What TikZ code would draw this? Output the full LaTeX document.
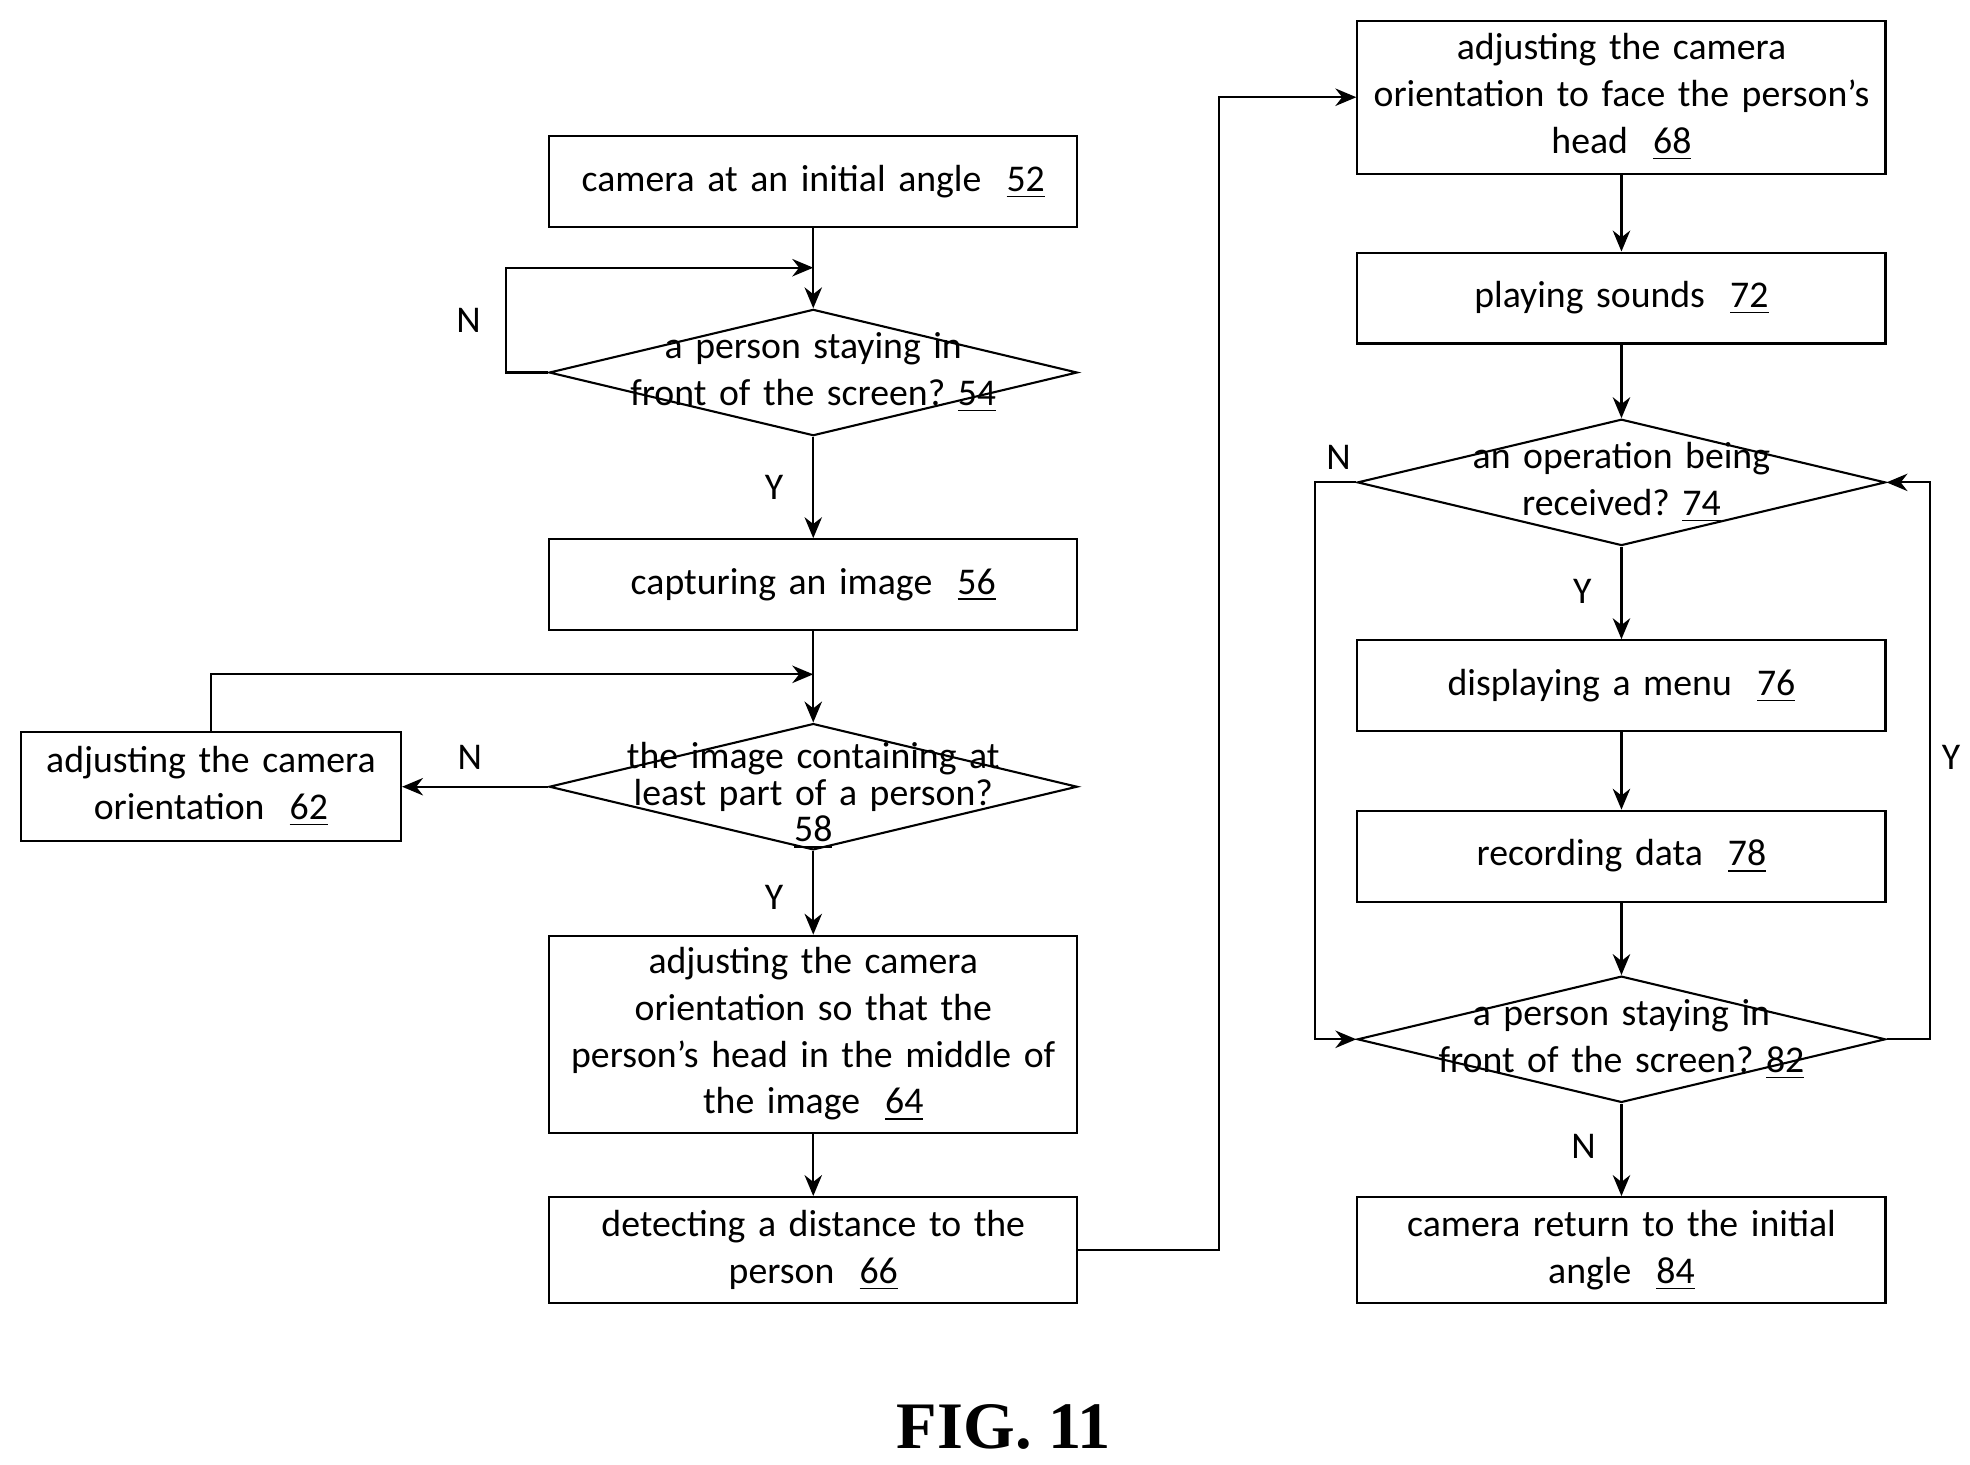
\documentclass[tikz,border=0pt]{standalone}
\usepackage{fontspec}
\setmainfont{Carlito}
\newfontfamily\figfont{Liberation Serif}
\usetikzlibrary{arrows.meta,shapes.geometric,positioning}

\begin{document}
\begin{tikzpicture}[x=0.0127cm,y=-0.0127cm,line width=0.6pt,
  every node/.style={font=\fontsize{10.8}{13.4}\selectfont},
  box/.style={rectangle,draw=black,minimum width=5.309cm,text width=5.3cm,align=center,inner sep=0pt},
  dec/.style={diamond,draw=black,minimum width=5.309cm,minimum height=1.27cm,inner sep=0pt},
  txt/.style={text width=4.8cm,align=center,inner sep=0pt},
  arr/.style={-{Stealth[length=6pt,width=5pt]}}]
\useasboundingbox (0,0) rectangle (1560,1160);
% left column
\node (n52) at (644,144) [box,minimum height=0.914cm]{camera at an initial angle~~\underline{52}};
\node (d54) at (644,295) [dec]{};
\node at (d54) [txt]{a person staying in\\front of the screen?~\underline{54}};
\node (n56) at (644,463) [box,minimum height=0.914cm]{capturing an image~~\underline{56}};
\node (d58) at (644,623) [dec]{};
\node at (644,630) [txt,font=\fontsize{10.8}{10.5}\selectfont]{the image containing at\\least part of a person?\\\underline{58}};
\node (n62) at (167,623) [box,minimum width=3.823cm,text width=3.8cm,minimum height=1.092cm]{adjusting the camera\\orientation~~\underline{62}};
\node (n64) at (644,819) [box,minimum height=1.981cm]{adjusting the camera\\orientation so that the\\person's head in the middle of\\the image~~\underline{64}};
\node (n66) at (644,990) [box,minimum height=1.067cm]{detecting a distance to the\\person~~\underline{66}};
% right column
\node (n68) at (1284,77) [box,minimum height=1.537cm]{adjusting the camera\\orientation to face the person's\\head~~\underline{68}};
\node (n72) at (1284,236) [box,minimum height=0.914cm]{playing sounds~~\underline{72}};
\node (d74) at (1284,382) [dec]{};
\node at (d74) [txt]{an operation being\\received?~\underline{74}};
\node (n76) at (1284,543) [box,minimum height=0.914cm]{displaying a menu~~\underline{76}};
\node (n78) at (1284,678) [box,minimum height=0.914cm]{recording data~~\underline{78}};
\node (d82) at (1284,823) [dec]{};
\node at (d82) [txt]{a person staying in\\front of the screen?~\underline{82}};
\node (n84) at (1284,990) [box,minimum height=1.067cm]{camera return to the initial\\angle~~\underline{84}};
\coordinate (c54) at (644,212);
\coordinate (c58) at (644,534);
% connectors
\draw[arr] (n52) -- (d54);
\draw[arr] (d54.west) -- (401,295) -- (401,212) -- (c54);
\node (l54n) at (371,254) {N};
\draw[arr] (d54) -- (n56);
\node (l54y) at (613,386) {Y};
\draw[arr] (n56) -- (d58);
\draw[arr] (d58.west) -- (n62.east);
\node (l58n) at (372,600) {N};
\draw[arr] (n62.north) -- (167,534) -- (c58);
\draw[arr] (d58) -- (n64);
\node (l58y) at (613,711) {Y};
\draw[arr] (n64) -- (n66);
\draw[arr] (n66.east) -- (965,990) -- (965,77) -- (n68.west);
\draw[arr] (n68) -- (n72);
\draw[arr] (n72) -- (d74);
\draw[arr] (d74) -- (n76);
\node (l74y) at (1253,468) {Y};
\draw[arr] (n76) -- (n78);
\draw[arr] (n78) -- (d82);
\draw[arr] (d82) -- (n84);
\node (l82n) at (1254,908) {N};
\draw[arr] (d74.west) -- (1041,382) -- (1041,823) -- (d82.west);
\node (l74n) at (1060,362) {N};
\draw[arr] (d82.east) -- (1528,823) -- (1528,382) -- (d74.east);
\node (l82y) at (1545,600) {Y};
\node (fig) at (795,1130) {\figfont\fontsize{19}{22}\selectfont\bfseries FIG. 11};
\end{tikzpicture}
\end{document}
